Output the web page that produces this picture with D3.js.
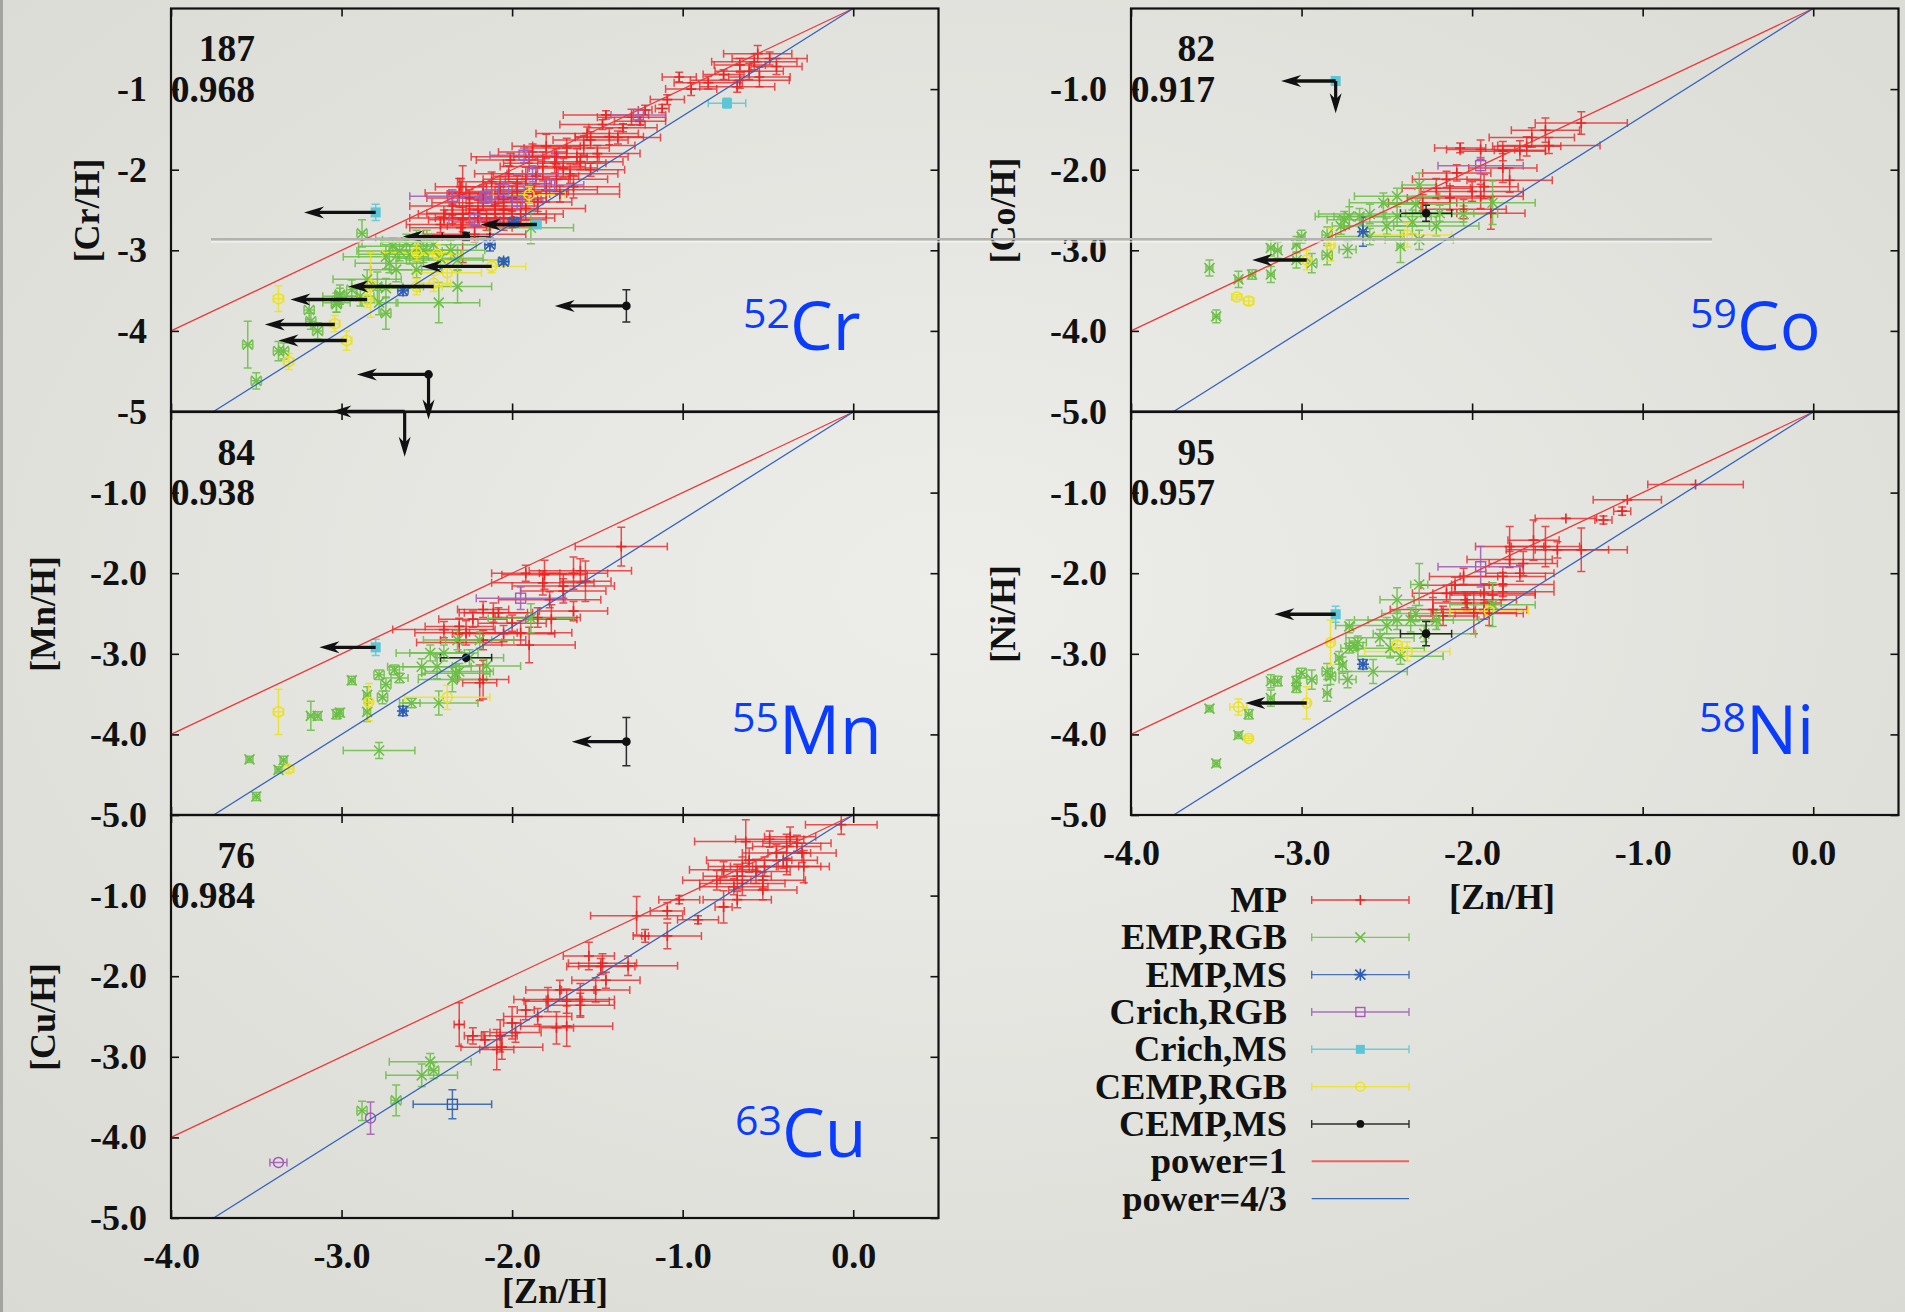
<!DOCTYPE html>
<html>
<head>
<meta charset="utf-8">
<script src="https://cdn.jsdelivr.net/npm/d3@7"></script>
<style>
  html, body { margin: 0; padding: 0; background: #e4e4df; }
  svg { display: block; }
  text { font-family: "Liberation Serif", "Times New Roman", serif; font-weight: bold; font-size: 36px; fill: #111; }
  text.iso { font-family: "Open Sans", "DejaVu Sans", sans-serif; font-weight: normal; fill: #0a3cff; }
  text.big { font-size: 37.5px; }
  text.leg { font-size: 36.5px; }
</style>
</head>
<body>
<svg id="chart" width="1905" height="1312"></svg>
<script>
// Zn vs Cr/Mn/Cu/Co/Ni abundance panels, gnuplot-style with error bars and upper limits

const xDomain = [-4, 0.5];
const yDomain = [-5, 0];
const xTicks = [-4, -3, -2, -1, 0];
const yTicks = [-5, -4, -3, -2, -1];

// series: 0 MP, 1 EMP,RGB, 2 EMP,MS, 3 Crich,RGB, 4 Crich,MS, 5 CEMP,RGB, 6 CEMP,MS (7/8 extra symbols in Cu)
const seriesNames = ['MP', 'EMP,RGB', 'EMP,MS', 'Crich,RGB', 'Crich,MS', 'CEMP,RGB', 'CEMP,MS'];
const seriesColors = ['#ec2424', '#6cbf45', '#2c5db5', '#a35bb5', '#5cc6d6', '#ece21e', '#111111', '#a35bb5', '#2c5db5'];
const seriesShapes = ['plus', 'cross', 'star', 'square', 'fsquare', 'circle', 'dot', 'circle', 'square'];

const lineNames = ['power=1', 'power=4/3'];
const lineColors = ['#f03838', '#3563c0'];
const powerLines = [[[-4, -4], [0, 0]], [[-3.75, -5], [0, 0]]];

// [x, y, xerr, yerr, series]
const crPoints = [
  [-0.56,-0.56,0.2,0.1,0],[-0.49,-0.62,0.22,0.08,0],[-0.61,-0.78,0.2,0.1,0],[-0.665,-0.70,0.15,0.08,0],
  [-0.76,-0.82,0.12,0.06,0],[-0.665,-0.89,0.29,0.1,0],[-0.68,-0.97,0.22,0.07,0],[-0.45,-0.72,0.15,0.1,0],
  [-0.55,-0.85,0.18,0.12,0],[-1.02,-0.85,0.1,0.06,0],[-1.09,-1.13,0.1,0.06,0],[-1.12,-1.24,0.04,0.05,0],
  [-1.22,-1.26,0.04,0.06,0],[-1.45,-1.32,0.25,0.05,0],[-1.47,-1.44,0.25,0.06,0],[-1.56,-1.55,0.3,0.08,0],
  [-1.54,-1.63,0.22,0.1,0],[-1.43,-1.59,0.2,0.1,0],[-1.80,-1.71,0.2,0.15,0],[-1.68,-1.73,0.25,0.12,0],
  [-1.90,-1.84,0.34,0.08,0],[-1.74,-1.84,0.25,0.1,0],[-1.62,-1.84,0.3,0.1,0],[-2.01,-1.88,0.2,0.08,0],
  [-1.82,-1.96,0.25,0.18,0],[-1.70,-1.98,0.2,0.12,0],[-1.54,-2.00,0.2,0.08,0],[-1.86,-2.08,0.25,0.1,0],
  [-1.74,-2.12,0.3,0.15,0],[-1.97,-2.17,0.2,0.1,0],[-2.07,-2.21,0.2,0.12,0],[-1.97,-2.27,0.3,0.1,0],
  [-1.64,-2.21,0.27,0.14,0],[-2.17,-2.29,0.2,0.1,0],[-2.05,-2.37,0.22,0.12,0],[-1.92,-2.48,0.35,0.15,0],
  [-2.05,-2.50,0.2,0.1,0],[-2.25,-2.54,0.25,0.12,0],[-2.31,-2.29,0.2,0.18,0],[-2.13,-2.70,0.25,0.1,0],
  [-2.30,-2.21,0.15,0.1,0],[-2.17,-2.41,0.3,0.1,0],[-2.29,-2.62,0.2,0.15,0],[-2.29,-2.55,0.1,0.6,0],
  [-2.20,-2.50,0.2,0.12,0],[-2.10,-2.45,0.25,0.1,0],[-2.05,-2.60,0.3,0.15,0],[-2.15,-2.65,0.2,0.1,0],
  [-2.30,-2.72,0.3,0.12,0],[-1.95,-2.55,0.25,0.15,0],[-2.00,-2.35,0.2,0.15,0],[-1.85,-2.40,0.2,0.12,0],
  [-1.80,-2.25,0.3,0.15,0],[-2.35,-2.45,0.25,0.12,0],[-2.40,-2.60,0.2,0.1,0],[-2.22,-2.80,0.3,0.1,0],
  [-1.25,-1.40,0.15,0.05,0],[-1.35,-1.48,0.2,0.05,0],
  [-1.60,-1.90,0.25,0.1,0],[-1.75,-1.92,0.3,0.12,0],[-1.88,-1.78,0.2,0.1,0],[-1.66,-2.05,0.28,0.12,0],
  [-1.92,-2.12,0.25,0.15,0],[-2.02,-2.05,0.2,0.1,0],[-1.58,-1.70,0.3,0.12,0],[-1.50,-1.80,0.25,0.1,0],
  [-2.12,-2.15,0.2,0.12,0],[-2.25,-2.35,0.25,0.1,0],[-2.08,-2.30,0.3,0.12,0],[-1.88,-2.30,0.2,0.1,0],
  [-2.20,-2.60,0.25,0.1,0],[-2.35,-2.55,0.2,0.12,0],[-1.72,-2.30,0.35,0.1,0],[-2.00,-2.62,0.2,0.1,0],
  [-1.38,-1.60,0.25,0.08,0],[-1.30,-1.35,0.2,0.1,0],[-0.95,-1.00,0.15,0.08,0],[-0.85,-0.92,0.2,0.08,0],
  [-0.58,-0.66,0.25,0.1,0],[-2.42,-2.68,0.2,0.1,0],[-2.10,-2.55,0.3,0.12,0],
  [-1.26,-1.32,0.16,0.07,3],[-1.93,-1.82,0.2,0.09,3],[-1.78,-2.19,0.2,0.07,3],[-2.16,-2.35,0.15,0.07,3],
  [-1.97,-2.39,0.15,0.1,3],[-2.35,-2.33,0.25,0.08,3],[-2.15,-2.33,0.2,0.06,3],[-1.88,-2.05,0.15,0.1,3],
  [-2.05,-2.25,0.12,0.1,3],[-2.22,-2.62,0.15,0.08,3],
  [-2.88,-2.79,0.03,0.17,1],[-2.70,-2.95,0.2,0.1,1],[-2.66,-3.01,0.25,0.12,1],[-2.56,-2.87,0.2,0.12,1],
  [-2.50,-2.85,0.3,0.1,1],[-2.46,-2.93,0.25,0.1,1],[-2.74,-3.08,0.25,0.15,1],[-2.72,-3.16,0.2,0.12,1],
  [-2.68,-3.24,0.15,0.15,1],[-2.85,-3.36,0.2,0.12,1],[-2.79,-3.45,0.15,0.18,1],[-2.89,-3.57,0.08,0.12,1],
  [-3.01,-3.57,0.1,0.1,1],[-3.03,-3.65,0.08,0.12,1],[-2.74,-3.47,0.2,0.12,1],[-2.78,-3.65,0.1,0.15,1],
  [-2.74,-3.78,0.03,0.2,1],[-2.43,-3.65,0.24,0.25,1],[-2.32,-3.45,0.2,0.2,1],[-2.56,-3.24,0.15,0.1,1],
  [-2.42,-3.10,0.25,0.1,1],[-2.32,-3.12,0.3,0.12,1],[-3.19,-3.74,0.03,0.12,1],[-3.18,-3.88,0.03,0.1,1],
  [-3.14,-4.00,0.03,0.1,1],[-3.03,-3.67,0.03,0.1,1],[-3.01,-3.55,0.03,0.12,1],[-2.94,-3.49,0.03,0.12,1],
  [-3.55,-4.17,0.03,0.29,1],[-3.37,-4.25,0.03,0.12,1],[-3.34,-4.25,0.03,0.1,1],[-3.50,-4.62,0.03,0.1,1],
  [-2.60,-3.05,0.3,0.12,1],[-2.52,-3.00,0.2,0.15,1],[-2.62,-2.90,0.15,0.1,1],[-2.36,-3.00,0.2,0.12,1],
  [-1.89,-2.72,0.25,0.2,1],
  [-1.99,-2.65,0.03,0.06,2],[-2.13,-2.93,0.03,0.08,2],[-2.05,-3.14,0.03,0.04,2],[-2.64,-3.50,0.03,0.06,2],
  [-3.37,-3.60,0.03,0.16,5],[-3.04,-3.91,0.03,0.1,5],[-2.97,-4.12,0.03,0.12,5],[-3.31,-4.38,0.03,0.1,5],
  [-2.56,-3.03,0.2,0.1,5],[-2.44,-3.05,0.15,0.12,5],[-2.38,-3.28,0.2,0.15,5],[-2.83,-3.43,0.03,0.4,5],
  [-2.56,-3.45,0.15,0.1,5],[-2.46,-3.41,0.1,0.1,5],[-2.12,-3.20,0.2,0.08,5],[-1.90,-2.31,0.21,0.1,5],
  [-2.85,-3.61,0.05,0.1,5],
  [-2.80,-2.53,0,0.1,4],[-0.74,-1.175,0.11,0.06,4],[-1.855,-2.68,0,0,4],
  [-2.27,-2.83,0.14,0.05,6],[-1.33,-3.69,0,0.2,6],[-2.49,-4.54,0,0,6]
];

const mnPoints = [
  [-1.36,-1.67,0.27,0.24,0],[-1.64,-2.00,0.2,0.2,0],[-1.57,-2.10,0.15,0.25,0],[-1.81,-2.02,0.25,0.18,0],
  [-1.82,-2.12,0.3,0.15,0],[-1.70,-2.16,0.3,0.15,0],[-1.92,-2.00,0.2,0.1,0],[-1.70,-2.22,0.25,0.15,0],
  [-1.78,-2.33,0.3,0.1,0],[-2.08,-2.49,0.2,0.06,0],[-2.17,-2.45,0.15,0.1,0],[-1.64,-2.47,0.2,0.12,0],
  [-1.77,-2.57,0.15,0.18,0],[-1.90,-2.89,0.27,0.22,0],[-1.95,-2.74,0.3,0.15,0],[-2.17,-3.32,0.15,0.24,0],
  [-2.31,-2.86,0.25,0.12,0],[-2.31,-2.66,0.2,0.1,0],[-2.23,-2.57,0.2,0.1,0],[-2.19,-3.36,0.1,0.22,0],
  [-2.27,-2.74,0.3,0.15,0],[-2.40,-2.70,0.3,0.1,0],[-2.11,-2.49,0.2,0.12,0],[-2.17,-2.83,0.25,0.12,0],
  [-2.00,-2.62,0.2,0.1,0],[-1.85,-2.55,0.25,0.12,0],[-2.05,-2.75,0.3,0.1,0],[-1.60,-1.97,0.3,0.15,0],
  [-1.95,-2.31,0.26,0.14,3],
  [-2.94,-3.33,0.02,0.05,1],[-3.18,-3.77,0.02,0.18,1],[-3.14,-3.77,0.02,0.05,1],[-3.03,-3.75,0.02,0.06,1],
  [-3.01,-3.73,0.02,0.05,1],[-3.54,-4.31,0.02,0.04,1],[-3.37,-4.44,0.02,0.04,1],[-3.34,-4.32,0.02,0.05,1],
  [-3.50,-4.77,0.02,0.05,1],[-2.78,-4.20,0.21,0.1,1],[-2.85,-3.51,0.02,0.1,1],[-2.85,-3.72,0.02,0.12,1],
  [-2.78,-3.26,0.03,0.06,1],[-2.76,-3.54,0.03,0.08,1],[-2.74,-3.38,0.03,0.08,1],[-2.69,-3.20,0.03,0.06,1],
  [-2.66,-3.30,0.05,0.06,1],[-2.59,-3.61,0.05,0.06,1],[-2.53,-3.16,0.2,0.1,1],[-2.48,-2.99,0.2,0.1,1],
  [-2.44,-3.16,0.2,0.15,1],[-2.43,-3.61,0.23,0.15,1],[-2.35,-3.32,0.2,0.15,1],[-2.31,-3.22,0.2,0.1,1],
  [-2.40,-2.99,0.2,0.1,1],[-2.32,-2.83,0.2,0.12,1],[-2.19,-2.83,0.2,0.1,1],[-2.33,-3.24,0.2,0.1,1],
  [-1.89,-2.56,0.25,0.18,1],[-2.25,-3.05,0.2,0.1,1],[-2.15,-3.15,0.2,0.1,1],
  [-2.64,-3.71,0.02,0.06,2],
  [-3.37,-3.72,0.03,0.28,5],[-3.31,-4.43,0.03,0.04,5],[-2.84,-3.60,0.02,0.23,5],[-2.38,-3.54,0.25,0.15,5],
  [-2.80,-2.92,0,0.1,4],
  [-2.27,-3.05,0.15,0,6],[-1.33,-4.09,0,0.3,6]
];

const cuPoints = [
  [-2.31,-2.60,0.03,0.27,0],[-2.23,-2.74,0.05,0.1,0],[-2.16,-2.79,0.1,0.1,0],[-2.09,-2.91,0.1,0.25,0],
  [-2.07,-2.74,0.1,0.2,0],[-2.06,-2.88,0.24,0.15,0],[-2.00,-2.58,0.05,0.2,0],[-1.92,-2.42,0.05,0.12,0],
  [-1.79,-2.29,0.2,0.15,0],[-1.74,-2.64,0.1,0.2,0],[-1.68,-2.62,0.27,0.25,0],[-1.72,-2.17,0.2,0.12,0],
  [-1.68,-2.31,0.25,0.15,0],[-1.60,-2.29,0.2,0.2,0],[-1.60,-2.36,0.2,0.15,0],[-1.51,-2.17,0.2,0.15,0],
  [-1.48,-1.88,0.2,0.1,0],[-1.55,-1.75,0.15,0.17,0],[-1.47,-1.84,0.2,0.12,0],[-1.32,-1.87,0.29,0.12,0],
  [-1.27,-1.25,0.27,0.24,0],[-1.22,-1.50,0.02,0.08,0],[-1.09,-1.50,0.2,0.16,0],[-1.09,-1.19,0.1,0.1,0],
  [-0.91,-1.30,0.12,0.05,0],[-0.76,-1.14,0.05,0.2,0],[-1.02,-1.05,0.12,0.05,0],[-0.68,-1.05,0.2,0.1,0],
  [-0.80,-0.81,0.2,0.12,0],[-0.76,-0.68,0.2,0.1,0],[-0.68,-0.76,0.2,0.15,0],[-0.65,-0.64,0.2,0.12,0],
  [-0.63,-0.33,0.3,0.27,0],[-0.61,-0.56,0.25,0.15,0],[-0.57,-0.70,0.2,0.15,0],[-0.53,-0.81,0.25,0.1,0],
  [-0.52,-0.64,0.2,0.12,0],[-0.45,-0.47,0.2,0.1,0],[-0.39,-0.39,0.2,0.15,0],[-0.41,-0.56,0.2,0.1,0],
  [-0.37,-0.27,0.15,0.12,0],[-0.33,-0.35,0.2,0.1,0],[-0.30,-0.47,0.2,0.12,0],[-0.29,-0.64,0.15,0.2,0],
  [-0.49,-0.30,0.2,0.1,0],[-0.07,-0.12,0.21,0.12,0],[-0.39,-0.64,0.2,0.1,0],[-0.70,-0.89,0.2,0.1,0],
  [-0.53,-0.93,0.2,0.12,0],[-0.65,-0.85,0.25,0.15,0],[-1.98,-2.70,0.15,0.12,0],[-1.85,-2.50,0.2,0.1,0],
  [-1.45,-2.05,0.2,0.1,0],
  [-2.88,-3.67,0.03,0.12,1],[-2.68,-3.54,0.03,0.19,1],[-2.53,-3.23,0.21,0.14,1],[-2.48,-3.06,0.24,0.1,1],
  [-2.46,-3.17,0.03,0.1,1],
  [-3.37,-4.31,0.05,0,7],[-2.83,-3.76,0,0.2,7],
  [-2.35,-3.59,0.23,0.18,8]
];

const coPoints = [
  [-1.36,-1.42,0.27,0.14,0],[-1.57,-1.51,0.2,0.15,0],[-1.68,-1.71,0.2,0.12,0],[-1.72,-1.76,0.15,0.12,0],
  [-1.82,-1.77,0.25,0.12,0],[-1.82,-1.98,0.2,0.18,0],[-1.78,-2.13,0.25,0.15,0],[-1.95,-1.75,0.2,0.12,0],
  [-2.07,-1.73,0.15,0.06,0],[-2.09,-2.04,0.2,0.1,0],[-1.93,-2.21,0.2,0.15,0],[-1.95,-2.33,0.25,0.15,0],
  [-1.89,-2.54,0.2,0.2,0],[-2.15,-2.12,0.2,0.1,0],[-2.21,-2.23,0.2,0.12,0],[-2.13,-2.35,0.25,0.15,0],
  [-2.00,-2.27,0.3,0.12,0],[-2.29,-2.41,0.2,0.1,0],[-2.05,-2.49,0.25,0.12,0],[-1.65,-1.60,0.25,0.12,0],
  [-1.55,-1.70,0.3,0.1,0],
  [-1.95,-1.95,0.25,0.1,3],
  [-3.54,-3.22,0.02,0.1,1],[-3.50,-3.82,0.02,0.08,1],[-3.37,-3.36,0.02,0.1,1],[-3.29,-3.30,0.02,0.06,1],
  [-3.18,-2.97,0.02,0.1,1],[-3.14,-3.00,0.02,0.1,1],[-3.18,-3.30,0.02,0.1,1],[-3.03,-2.93,0.02,0.1,1],
  [-3.00,-2.83,0.02,0.08,1],[-3.03,-3.12,0.02,0.1,1],[-2.94,-3.16,0.03,0.12,1],[-2.85,-2.81,0.03,0.1,1],
  [-2.85,-3.06,0.03,0.12,1],[-2.77,-2.70,0.05,0.1,1],[-2.75,-2.62,0.1,0.1,1],[-2.73,-2.99,0.05,0.1,1],
  [-2.72,-2.58,0.2,0.12,1],[-2.66,-2.58,0.15,0.1,1],[-2.60,-2.83,0.2,0.1,1],[-2.52,-2.41,0.2,0.12,1],
  [-2.44,-2.33,0.25,0.1,1],[-2.44,-2.58,0.2,0.12,1],[-2.42,-2.95,0.02,0.2,1],[-2.33,-2.43,0.2,0.1,1],
  [-2.31,-2.19,0.1,0.15,1],[-2.31,-2.87,0.2,0.12,1],[-2.21,-2.70,0.25,0.12,1],[-2.19,-2.54,0.2,0.1,1],
  [-1.88,-2.41,0.25,0.27,1],[-2.50,-2.70,0.25,0.1,1],[-2.60,-2.55,0.3,0.12,1],[-2.35,-2.65,0.3,0.15,1],
  [-2.05,-2.55,0.2,0.1,1],
  [-2.64,-2.77,0.02,0.18,2],
  [-2.97,-3.12,0.02,0.12,5],[-3.38,-3.58,0.03,0.03,5],[-3.31,-3.63,0.03,0.05,5],[-2.83,-2.93,0.02,0.2,5],
  [-2.38,-2.81,0.26,0.15,5],
  [-2.80,-0.90,0,0,4],
  [-2.27,-2.54,0.15,0.1,6]
];

const niPoints = [
  [-0.69,-0.90,0.28,0,0],[-1.09,-1.09,0.2,0,0],[-1.12,-1.23,0.05,0.05,0],[-1.23,-1.34,0.05,0.05,0],
  [-1.45,-1.32,0.18,0,0],[-1.36,-1.71,0.27,0.27,0],[-1.57,-1.67,0.2,0.25,0],[-1.64,-1.59,0.15,0.25,0],
  [-1.78,-1.83,0.25,0.1,0],[-1.78,-1.67,0.2,0.25,0],[-1.50,-1.71,0.3,0.1,0],[-1.82,-2.04,0.25,0.12,0],
  [-1.72,-2.00,0.2,0.1,0],[-1.82,-2.14,0.3,0.15,0],[-1.82,-2.23,0.3,0.1,0],[-1.88,-2.27,0.25,0.12,0],
  [-2.05,-2.04,0.2,0.1,0],[-2.10,-2.15,0.2,0.1,0],[-1.93,-2.45,0.25,0.12,0],[-1.99,-2.49,0.25,0.26,0],
  [-2.03,-2.37,0.2,0.1,0],[-2.15,-2.25,0.2,0.1,0],[-2.23,-2.45,0.25,0.15,0],[-2.17,-2.53,0.2,0.12,0],
  [-2.04,-2.33,0.3,0.1,0],[-1.93,-2.25,0.3,0.12,0],[-1.90,-2.50,0.2,0.15,0],[-1.70,-1.88,0.2,0.15,0],
  [-1.95,-1.92,0.25,0.25,3],
  [-3.54,-3.68,0.02,0.04,1],[-3.50,-4.36,0.02,0.04,1],[-3.37,-4.01,0.02,0.04,1],[-3.31,-3.75,0.02,0.06,1],
  [-3.18,-3.34,0.02,0.08,1],[-3.14,-3.34,0.02,0.06,1],[-3.18,-3.55,0.02,0.1,1],[-3.03,-3.34,0.02,0.06,1],
  [-3.03,-3.42,0.02,0.06,1],[-3.00,-3.24,0.03,0.06,1],[-2.94,-3.32,0.03,0.12,1],[-2.85,-3.49,0.02,0.1,1],
  [-2.85,-3.22,0.03,0.1,1],[-2.83,-3.28,0.03,0.1,1],[-2.78,-3.05,0.02,0.08,1],[-2.76,-3.14,0.02,0.1,1],
  [-2.73,-3.32,0.05,0.1,1],[-2.72,-2.93,0.05,0.06,1],[-2.69,-2.90,0.05,0.06,1],[-2.67,-2.86,0.05,0.08,1],
  [-2.72,-2.66,0.02,0.08,1],[-2.58,-3.22,0.2,0.15,1],[-2.54,-2.80,0.2,0.1,1],[-2.48,-2.93,0.2,0.12,1],
  [-2.44,-2.58,0.25,0.12,1],[-2.44,-2.33,0.1,0.15,1],[-2.42,-3.03,0.25,0.1,1],[-2.36,-2.58,0.25,0.15,1],
  [-2.33,-2.50,0.2,0.1,1],[-2.31,-2.14,0.05,0.26,1],[-2.21,-2.58,0.25,0.12,1],[-1.88,-2.39,0.25,0.27,1],
  [-2.50,-2.65,0.3,0.1,1],[-2.28,-2.75,0.3,0.1,1],
  [-2.64,-3.13,0.02,0.06,2],
  [-2.97,-3.61,0.02,0.2,5],[-2.83,-2.86,0.02,0.28,5],[-3.37,-3.66,0.05,0.1,5],[-3.31,-4.05,0.02,0.03,5],
  [-2.44,-2.89,0.03,0.05,5],[-2.38,-2.97,0.25,0.12,5],[-1.90,-2.47,0.23,0.05,5],
  [-2.80,-2.51,0,0.1,4],
  [-2.27,-2.75,0.15,0.15,6]
];

// upper limits: [x, y, left arrow length, down arrow length]
const crLimits = [
  [-2.80,-2.53,0.42,0],[-1.33,-3.69,0.42,0],[-2.49,-4.54,0.42,0.56],[-2.63,-5.0,0.43,0.56],
  [-2.85,-3.61,0.45,0],[-3.04,-3.92,0.41,0],[-2.97,-4.12,0.40,0],[-2.46,-3.45,0.50,0],
  [-2.12,-3.20,0.41,0],[-2.27,-2.83,0.37,0],[-1.855,-2.68,0.33,0]
];
const mnLimits = [[-2.80,-2.92,0.33,0],[-1.33,-4.09,0.32,0]];
const cuLimits = [];
const coLimits = [[-2.80,-0.90,0.32,0.40],[-2.97,-3.12,0.32,0]];
const niLimits = [[-2.80,-2.51,0.36,0],[-2.97,-3.61,0.36,0]];

const panels = [
  { left: 171, top: 8.5, dec: 0, xlab: false, pts: crPoints, lims: crLimits, mass: '52', el: 'Cr', n: '187', r: '0.968', ylab: '[Cr/H]', ylx: 87, isoX: 743 },
  { left: 171, top: 412, dec: 1, xlab: false, pts: mnPoints, lims: mnLimits, mass: '55', el: 'Mn', n: '84', r: '0.938', ylab: '[Mn/H]', ylx: 43, isoX: 732 },
  { left: 171, top: 815, dec: 1, xlab: true, pts: cuPoints, lims: cuLimits, mass: '63', el: 'Cu', n: '76', r: '0.984', ylab: '[Cu/H]', ylx: 43, isoX: 735 },
  { left: 1131, top: 8.5, dec: 1, xlab: false, pts: coPoints, lims: coLimits, mass: '59', el: 'Co', n: '82', r: '0.917', ylab: '[Co/H]', ylx: 1003, isoX: 1690 },
  { left: 1131, top: 412, dec: 1, xlab: true, pts: niPoints, lims: niLimits, mass: '58', el: 'Ni', n: '95', r: '0.957', ylab: '[Ni/H]', ylx: 1003, isoX: 1699 }
];

const PW = 767.5, PH = 403;
const svg = d3.select('#chart');

// slide background
const defs = svg.append('defs');
const grad = defs.append('radialGradient').attr('id', 'bg').attr('cx', '50%').attr('cy', '45%').attr('r', '75%');
grad.append('stop').attr('offset', '0%').attr('stop-color', '#ededea');
grad.append('stop').attr('offset', '100%').attr('stop-color', '#dadad4');
svg.append('rect').attr('width', 1905).attr('height', 1312).attr('fill', 'url(#bg)');
svg.append('rect').attr('width', 3).attr('height', 1312).attr('fill', '#a3a3a0');

function markerPath(shape) {
  switch (shape) {
    case 'plus': return 'M-5,0H5M0,-5V5';
    case 'cross': return 'M-5,-5L5,5M-5,5L5,-5';
    case 'star': return 'M-5,-5L5,5M-5,5L5,-5M-6,0H6M0,-6V6';
    default: return '';
  }
}

function drawMarker(g, shape, color, size) {
  const k = size || 1;
  if (shape === 'square') {
    g.append('rect').attr('x', -5 * k).attr('y', -5 * k).attr('width', 10 * k).attr('height', 10 * k)
      .attr('fill', 'none').attr('stroke', color).attr('stroke-width', 1.4);
  } else if (shape === 'fsquare') {
    g.append('rect').attr('x', -5 * k).attr('y', -5 * k).attr('width', 10 * k).attr('height', 10 * k).attr('fill', color);
  } else if (shape === 'circle') {
    g.append('circle').attr('r', 5 * k).attr('fill', 'none').attr('stroke', color).attr('stroke-width', 1.5);
  } else if (shape === 'dot') {
    g.append('circle').attr('r', 4.3 * k).attr('fill', color);
  } else {
    g.append('path').attr('d', markerPath(shape)).attr('stroke', color).attr('stroke-width', 1.6).attr('fill', 'none');
  }
}

function errPath(x, y, d) {
  const cx = x(d[0]), cy = y(d[1]);
  let p = '';
  if (d[2] > 0.015) {
    const x0 = x(d[0] - d[2]), x1 = x(d[0] + d[2]);
    p += `M${x0},${cy}H${x1}M${x0},${cy - 4}V${cy + 4}M${x1},${cy - 4}V${cy + 4}`;
  }
  if (d[3] > 0.015) {
    const y0 = y(d[1] - d[3]), y1 = y(d[1] + d[3]);
    p += `M${cx},${y0}V${y1}M${cx - 4},${y0}H${cx + 4}M${cx - 4},${y1}H${cx + 4}`;
  }
  return p;
}

function leftHead(tx, ty) { return `M${tx},${ty}L${tx + 20},${ty - 6}L${tx + 14},${ty}L${tx + 20},${ty + 6}Z`; }
function downHead(tx, ty) { return `M${tx},${ty}L${tx - 6},${ty - 20}L${tx},${ty - 14}L${tx + 6},${ty - 20}Z`; }

function styleAxis(a) {
  a.attr('font-size', null).attr('font-family', null);
  a.select('.domain').remove();
  a.selectAll('line').attr('stroke', '#111').attr('stroke-width', 1.6);
}

function drawPanel(p) {
  const x = d3.scaleLinear().domain(xDomain).range([p.left, p.left + PW]);
  const y = d3.scaleLinear().domain(yDomain).range([p.top + PH, p.top]);
  const fmt = d => d.toFixed(p.dec);
  const g = svg.append('g');

  g.append('g').attr('transform', `translate(${p.left},0)`)
    .call(d3.axisLeft(y).tickValues(yTicks).tickFormat(fmt).tickSizeInner(-8).tickSizeOuter(0).tickPadding(24))
    .call(styleAxis);
  g.append('g').attr('transform', `translate(${p.left + PW},0)`)
    .call(d3.axisRight(y).tickValues(yTicks).tickFormat('').tickSizeInner(-8).tickSizeOuter(0))
    .call(styleAxis);
  g.append('g').attr('transform', `translate(0,${p.top})`)
    .call(d3.axisTop(x).tickValues(xTicks).tickFormat('').tickSizeInner(-8).tickSizeOuter(0))
    .call(styleAxis);
  g.append('g').attr('transform', `translate(0,${p.top + PH})`)
    .call(d3.axisBottom(x).tickValues(xTicks).tickFormat(p.xlab ? d => d.toFixed(1) : '').tickSizeInner(-8).tickSizeOuter(0).tickPadding(24))
    .call(styleAxis);

  // y label
  g.append('text')
    .attr('transform', `translate(${p.ylx},${p.top + 202}) rotate(-90)`)
    .attr('text-anchor', 'middle').attr('dominant-baseline', 'central')
    .text(p.ylab);

  // points: error bars then markers
  const pts = g.append('g');
  pts.selectAll('path.err').data(p.pts).enter().append('path')
    .attr('class', 'err')
    .attr('d', d => errPath(x, y, d))
    .attr('fill', 'none')
    .attr('stroke', d => seriesColors[d[4]])
    .attr('stroke-width', 1.5)
    .attr('opacity', d => d[4] === 0 ? 0.8 : 0.88);
  pts.selectAll('g.mk').data(p.pts).enter().append('g')
    .attr('class', 'mk')
    .attr('transform', d => `translate(${x(d[0])},${y(d[1])})`)
    .each(function (d) { drawMarker(d3.select(this), seriesShapes[d[4]], seriesColors[d[4]], d[4] === 0 ? 0.8 : 1); });

  // power-law lines
  powerLines.forEach((ln, i) => {
    g.append('path')
      .attr('d', d3.line().x(d => x(d[0])).y(d => y(d[1]))(ln))
      .attr('stroke', lineColors[i]).attr('stroke-width', 1.3).attr('fill', 'none');
  });

  // frame
  g.append('rect').attr('x', p.left).attr('y', p.top).attr('width', PW).attr('height', PH)
    .attr('fill', 'none').attr('stroke', '#111').attr('stroke-width', 2.2);

  // upper limit arrows (drawn over the frame)
  const lim = g.append('g');
  p.lims.forEach(d => {
    const px = x(d[0]), py = y(d[1]);
    if (d[2] > 0) {
      const tx = x(d[0] - d[2]);
      lim.append('path').attr('d', `M${px},${py}H${tx + 12}`).attr('stroke', '#111').attr('stroke-width', 3.4);
      lim.append('path').attr('d', leftHead(tx, py)).attr('fill', '#111');
    }
    if (d[3] > 0) {
      const ty = y(d[1] - d[3]);
      lim.append('path').attr('d', `M${px},${py}V${ty - 12}`).attr('stroke', '#111').attr('stroke-width', 3.2);
      lim.append('path').attr('d', downHead(px, ty)).attr('fill', '#111');
    }
  });

  // count and correlation
  g.append('text').attr('class', 'big').attr('x', p.left + 84).attr('y', p.top + 52.5).attr('text-anchor', 'end').text(p.n);
  g.append('text').attr('class', 'big').attr('x', p.left + 84).attr('y', p.top + 93).attr('text-anchor', 'end').text(p.r);

  // isotope label
  const iso = g.append('text').attr('class', 'iso').attr('x', p.isoX).attr('y', p.top + 341.5);
  iso.append('tspan').attr('font-size', 41).attr('dy', -22).text(p.mass);
  iso.append('tspan').attr('font-size', 68).attr('dy', 22).text(p.el);
}

panels.forEach(drawPanel);

// x axis titles
svg.append('text').attr('x', 555).attr('y', 1303).attr('text-anchor', 'middle').text('[Zn/H]');
svg.append('text').attr('x', 1502).attr('y', 909).attr('text-anchor', 'middle').text('[Zn/H]');

// legend
const legend = svg.append('g');
const legY0 = 900, legDY = 37.33, legX0 = 1311.7, legX1 = 1409, legLabelX = 1287;
seriesNames.forEach((name, i) => {
  const yy = legY0 + i * legDY;
  const c = seriesColors[i];
  legend.append('text').attr('class', 'leg').attr('x', legLabelX).attr('y', yy + 12).attr('text-anchor', 'end').text(name);
  legend.append('path')
    .attr('d', `M${legX0},${yy}H${legX1}M${legX0},${yy - 4}V${yy + 4}M${legX1},${yy - 4}V${yy + 4}`)
    .attr('stroke', c).attr('stroke-width', 1.4).attr('fill', 'none').attr('opacity', 0.85);
  const mk = legend.append('g').attr('transform', `translate(${(legX0 + legX1) / 2},${yy})`);
  drawMarker(mk, seriesShapes[i], c, i === 0 ? 0.8 : 0.9);
});
lineNames.forEach((name, i) => {
  const yy = legY0 + (seriesNames.length + i) * legDY;
  legend.append('text').attr('class', 'leg').attr('x', legLabelX).attr('y', yy + 12).attr('text-anchor', 'end').text(name);
  legend.append('path').attr('d', `M${legX0},${yy}H${legX1}`)
    .attr('stroke', lineColors[i]).attr('stroke-width', i === 0 ? 2 : 1.4).attr('opacity', i === 0 ? 0.75 : 1);
});

// grey rule across the slide
svg.append('path').attr('d', 'M211,239.3H1712').attr('stroke', '#b2b2ae').attr('stroke-width', 2.6);
svg.append('path').attr('d', 'M211,241.8H1712').attr('stroke', '#f4f4f0').attr('stroke-width', 1.2);
</script>
</body>
</html>
